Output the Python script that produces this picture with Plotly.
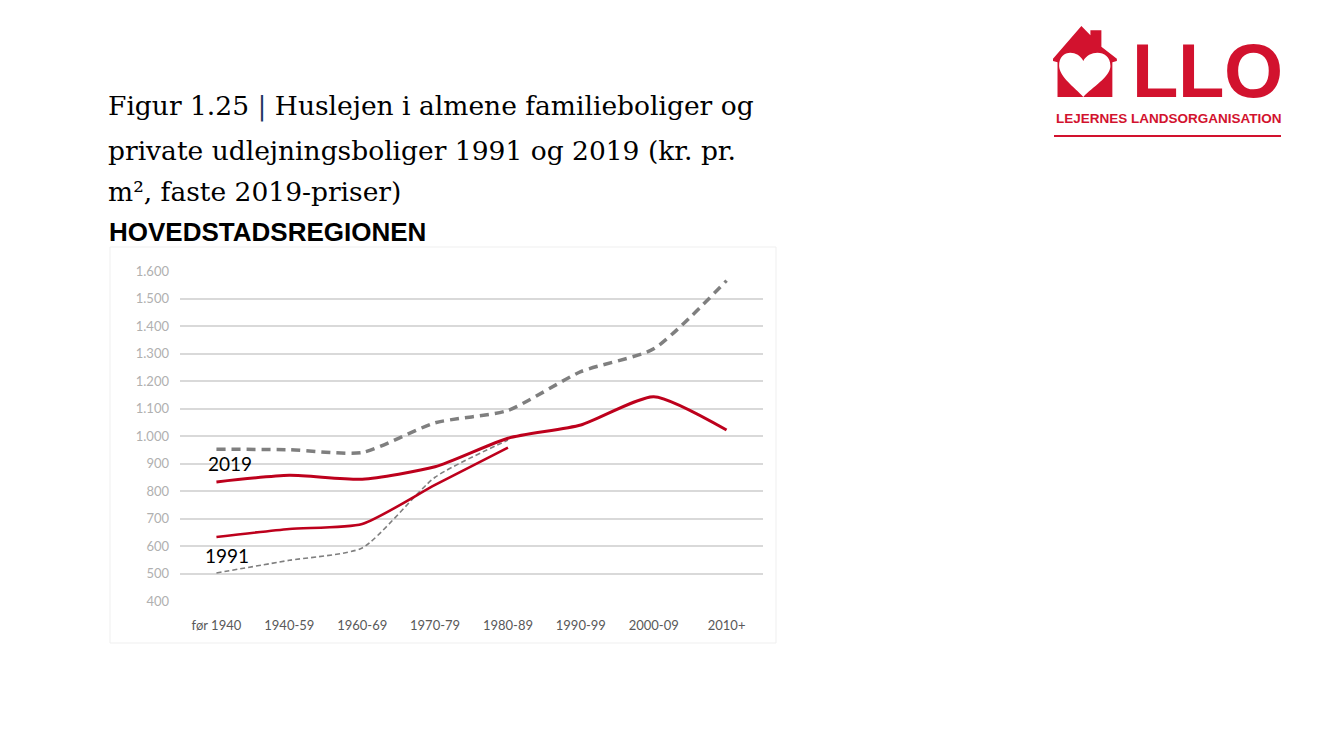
import plotly.graph_objects as go

# ---------------- data ----------------
categories = ["før 1940", "1940-59", "1960-69", "1970-79", "1980-89", "1990-99", "2000-09", "2010+"]
private_2019 = [952, 950, 940, 1048, 1093, 1234, 1317, 1565]
almene_2019 = [833, 857, 843, 888, 992, 1040, 1143, 1022]
almene_1991 = [633, 662, 680, 822, 958, None, None, None]
private_1991 = [502, 548, 593, 850, 985, None, None, None]
y_ticks = [400, 500, 600, 700, 800, 900, 1000, 1100, 1200, 1300, 1400, 1500, 1600]

# ---------------- layout geometry ----------------
W, H = 1333, 750
ML, MR, MT, MB = 180, 570, 271, 149
PW, PH = W - ML - MR, H - MT - MB

def px(x):
    return (x - ML) / PW

def py(y):
    return (H - MB - y) / PH

RED = "#bd001c"
LOGO = "#d2122e"
GRAY = "#7f7f7f"

fig = go.Figure()

fig.add_trace(go.Scatter(x=categories, y=private_1991, mode="lines",
                         line=dict(color=GRAY, width=1.6, dash="5px,3px", shape="spline", smoothing=0.6),
                         connectgaps=False, hoverinfo="skip"))
fig.add_trace(go.Scatter(x=categories, y=private_2019, mode="lines",
                         line=dict(color=GRAY, width=3.5, dash="9px,6px", shape="spline", smoothing=0.6),
                         hoverinfo="skip"))
fig.add_trace(go.Scatter(x=categories, y=almene_1991, mode="lines",
                         line=dict(color=RED, width=2.6, shape="spline", smoothing=0.6),
                         hoverinfo="skip"))
fig.add_trace(go.Scatter(x=categories, y=almene_2019, mode="lines",
                         line=dict(color=RED, width=3.0, shape="spline", smoothing=0.6),
                         hoverinfo="skip"))

fig.update_layout(
    width=W, height=H,
    margin=dict(l=ML, r=MR, t=MT, b=MB, pad=0),
    paper_bgcolor="white", plot_bgcolor="white",
    showlegend=False,
    separators=",.",
    font=dict(family="Lato, Liberation Sans, sans-serif"),
)
fig.update_xaxes(
    type="category", range=[-0.5, 7.5],
    showgrid=False, zeroline=False, showline=False, ticks="",
    tickfont=dict(size=13, color="#595959", family="Lato, Liberation Sans, sans-serif"),
    ticklabelstandoff=15,
)
fig.update_yaxes(
    range=[400, 1600], tickvals=y_ticks, tickformat=",d",
    showgrid=True, gridcolor="#d9d9d9", gridwidth=1.5,
    zeroline=False, showline=False, ticks="",
    tickfont=dict(size=13, color="#b0b0b0", family="Lato, Liberation Sans, sans-serif"),
    ticklabelstandoff=10,
)

shapes = []
# faint frame of the chart image
shapes.append(dict(type="rect", xref="paper", yref="paper",
                   x0=px(110), x1=px(776), y0=py(643), y1=py(247),
                   line=dict(color="#efefef", width=1), fillcolor="rgba(0,0,0,0)", layer="below"))

# ---- logo: house with heart ----
def zp(zx, zy):
    return px(1053 + (zx - 34) / 3.1), py(26 + (zy - 15) / 3.0)

def path_from(cmds):
    out = []
    for c in cmds:
        if isinstance(c, str):
            out.append(c)
        else:
            x, y = zp(*c)
            out.append(f"{x:.5f},{y:.5f}")
    return " ".join(out)

house = path_from(["M", (122, 15), "L", (150, 43), "L", (150, 28), "L", (184, 28), "L", (184, 77),
                   "L", (232, 113), "L", (232, 120), "L", (218, 124), "L", (218, 228),
                   "L", (48, 228), "L", (48, 124), "L", (34, 120), "L", (34, 113), "Z"])
shapes.append(dict(type="path", xref="paper", yref="paper", path=house,
                   fillcolor=LOGO, line=dict(width=0)))
heart = path_from(["M", (128, 120), "C", (110, 85), (52, 85), (53, 135),
                   "C", (54, 168), (100, 198), (128, 228),
                   "C", (156, 198), (212, 168), (212, 135),
                   "C", (212, 85), (146, 85), (128, 120), "Z"])
shapes.append(dict(type="path", xref="paper", yref="paper", path=heart,
                   fillcolor="white", line=dict(width=0)))
# red rule under logo
shapes.append(dict(type="line", xref="paper", yref="paper",
                   x0=px(1054), x1=px(1281), y0=py(136), y1=py(136),
                   line=dict(color=LOGO, width=2)))

fig.update_layout(shapes=shapes)

ann = []
def text(x, y, s, size, color="black", family="Liberation Serif", xanchor="left", yanchor="middle"):
    ann.append(dict(x=px(x), y=py(y), xref="paper", yref="paper", text=s, showarrow=False,
                    xanchor=xanchor, yanchor=yanchor,
                    font=dict(size=size, color=color, family=family)))

serif = "DejaVu Serif, Liberation Serif, serif"
text(106, 106, "Figur 1.25 <span style='color:#1f3864'>|</span> Huslejen i almene familieboliger og", 26.5, family=serif)
text(106, 150, "private udlejningsboliger 1991 og 2019 (kr. pr.", 26.5, family=serif)
text(106, 191, "m², faste 2019-priser)", 26.5, family=serif)
text(107, 232, "<b>HOVEDSTADSREGIONEN</b>", 26, family="Liberation Sans, Arial, sans-serif")

text(206, 463, "2019", 19, family="Lato, Liberation Sans, sans-serif")
text(203, 555, "1991", 19, family="Lato, Liberation Sans, sans-serif")

# logo text
text(1130, 70, "<b>L</b>", 76, color=LOGO, family="Liberation Sans, Arial, sans-serif")
text(1176, 70, "<b>L</b>", 76, color=LOGO, family="Liberation Sans, Arial, sans-serif")
text(1222, 70, "<b>O</b>", 76, color=LOGO, family="Liberation Sans, Arial, sans-serif")
text(1054, 118, "<b>LEJERNES LANDSORGANISATION</b>", 13.5, color=LOGO, family="Liberation Sans, Arial, sans-serif")

fig.update_layout(annotations=ann)

fig.write_html("out.html", config={"displayModeBar": False})

# remove the default page margin so the figure sits at the window origin
with open("out.html", "r", encoding="utf-8") as f:
    html = f.read()
html = html.replace("<body>", "<body style=\"margin:0;padding:0;overflow:hidden\">", 1)
with open("out.html", "w", encoding="utf-8") as f:
    f.write(html)
